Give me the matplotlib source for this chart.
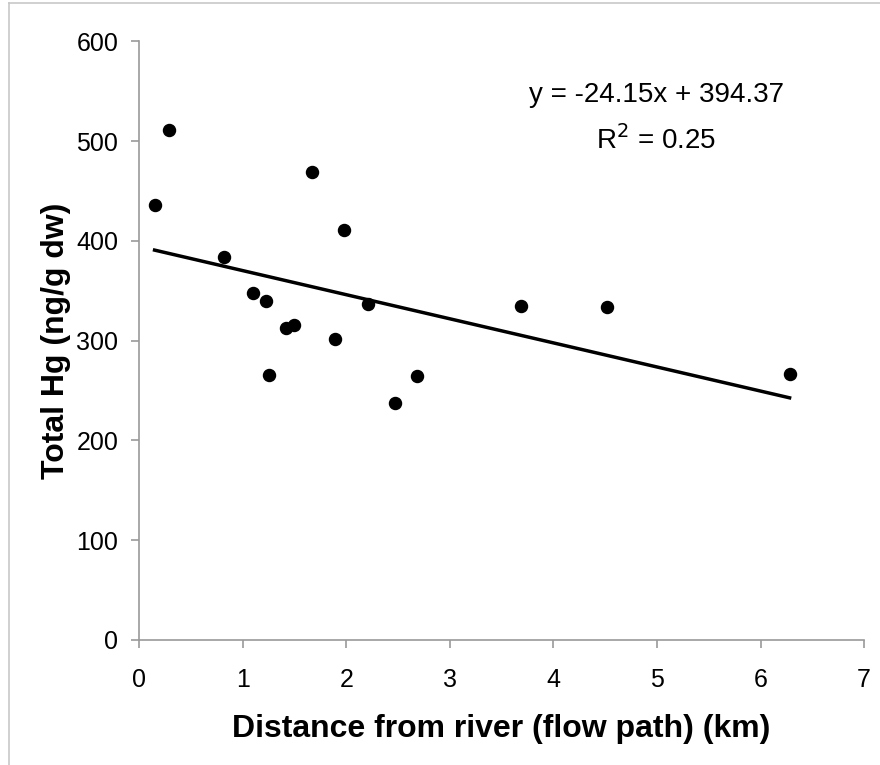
import matplotlib
matplotlib.use("Agg")
import matplotlib.pyplot as plt
from matplotlib.lines import Line2D
import numpy as np

plt.rcParams["font.family"] = ["Liberation Sans", "DejaVu Sans"]

# data
distance_km = [0.15, 0.29, 0.82, 1.10, 1.23, 1.25, 1.42, 1.50, 1.67,
               1.89, 1.98, 2.21, 2.47, 2.68, 3.69, 4.52, 6.28]
total_hg = [436, 511, 384, 348, 340, 266, 313, 316, 469,
            302, 411, 337, 238, 265, 335, 334, 267]
slope = -24.15
intercept = 394.37
r_squared = 0.25

fig = plt.figure(figsize=(8.8, 7.65), dpi=100)
ax = fig.add_axes([0.158, 0.1634, 0.824, 0.7826])

ax.scatter(distance_km, total_hg, s=75, color="black", zorder=3)

xfit = np.array([min(distance_km), max(distance_km)])
ax.plot(xfit, slope * xfit + intercept, color="black", lw=2.5)

ax.set_xlim(0, 7)
ax.set_ylim(0, 600)
ax.set_xticks(range(0, 8))
ax.set_yticks(range(0, 601, 100))
for s in ["top", "right"]:
    ax.spines[s].set_visible(False)
for s in ["left", "bottom"]:
    ax.spines[s].set_color("#9a9a9a")
    ax.spines[s].set_linewidth(1.2)
ax.tick_params(colors="#9a9a9a", labelcolor="black", labelsize=18,
               length=6, width=1.2)
ax.tick_params(axis="x", pad=14)
ax.tick_params(axis="y", pad=9)

ax.set_xlabel("Distance from river (flow path) (km)", fontsize=23,
              fontweight="bold", labelpad=16)
ax.set_ylabel("Total Hg (ng/g dw)", fontsize=23, fontweight="bold", labelpad=4)

ax.text(0.713, 0.91, f"y = {slope:.2f}x + {intercept:.2f}",
        transform=ax.transAxes, ha="center", va="center", fontsize=20)
ax.text(0.713, 0.835, "R$^2$ = %.2f" % r_squared,
        transform=ax.transAxes, ha="center", va="center", fontsize=20)

# light frame lines at left and top
fig.add_artist(Line2D([9 / 880, 9 / 880], [0, 1 - 3 / 765], color="#c8c8c8", lw=1.2))
fig.add_artist(Line2D([9 / 880, 1], [1 - 3 / 765, 1 - 3 / 765], color="#c8c8c8", lw=1.2))

fig.savefig("out.png", dpi=100)
